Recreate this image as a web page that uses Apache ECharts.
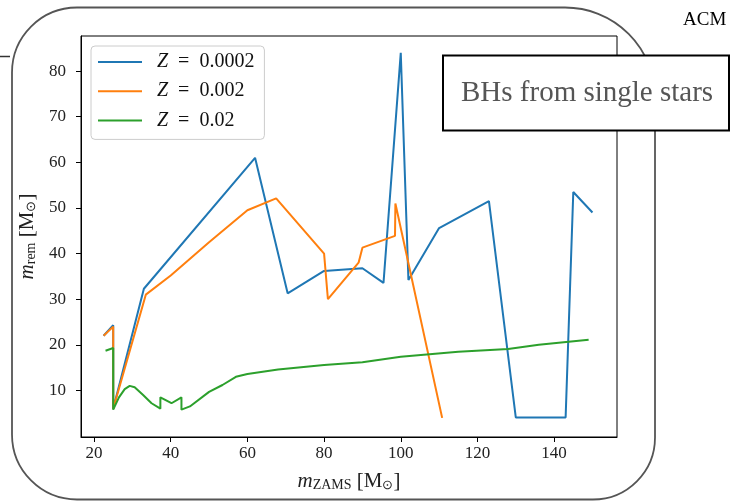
<!DOCTYPE html>
<html>
<head>
<meta charset="utf-8">
<script src="https://cdn.jsdelivr.net/npm/echarts@6/dist/echarts.min.js"></script>
<style>
html,body{margin:0;padding:0;background:#fff;}
#chart{width:736px;height:503px;}
</style>
</head>
<body>
<div id="chart"></div>
<script>
// ---- data ----
var seriesNames = ['Z = 0.0002', 'Z = 0.002', 'Z = 0.02'];
var blueX = [22.5, 25, 25, 33, 62, 70.5, 80, 90, 95.5, 100, 102, 110, 123, 130, 143, 145, 150];
var blueY = [22, 24.3, 6, 32.3, 61, 31.3, 36.2, 36.8, 33.6, 84, 34.2, 45.6, 51.5, 4.1, 4.1, 53.5, 49];
var orangeX = [22.5, 25, 25, 33.5, 40, 50, 60, 67.5, 80, 81, 89, 90, 98.5, 98.6, 110.8];
var orangeY = [22, 24, 6, 31, 35.2, 42.5, 49.5, 52.1, 40, 30, 38, 41.3, 43.9, 51, 4];
var greenX = [23, 25, 25, 26.5, 28, 29.3, 30.6, 32.8, 35, 37.3, 37.3, 40.2, 42.8, 42.8, 45, 50, 53.5, 57, 60, 68, 80, 90, 100, 115, 128, 136, 149];
var greenY = [18.7, 19.3, 5.8, 8.5, 10.3, 11, 10.7, 9, 7.2, 6, 8.5, 7.2, 8.5, 5.8, 6.5, 9.7, 11.2, 13, 13.6, 14.6, 15.6, 16.2, 17.4, 18.5, 19.1, 20, 21.1];
var xTicks = [20, 40, 60, 80, 100, 120, 140];
var yTicks = [10, 20, 30, 40, 50, 60, 70, 80];

function pairs(xs, ys) { return xs.map(function (x, i) { return [x, ys[i]]; }); }

var serif = 'Liberation Serif';
var chart = echarts.init(document.getElementById('chart'), null, {renderer: 'canvas'});

var labelRich = {
  m: {fontFamily: serif, fontStyle: 'italic', fontSize: 21, color: '#222'},
  s: {fontFamily: serif, fontSize: 14, color: '#222', verticalAlign: 'bottom', lineHeight: 16, padding: [7, 0, 0, 0]},
  t: {fontFamily: serif, fontSize: 13, color: '#222', verticalAlign: 'bottom', lineHeight: 16, padding: [7, 0, 0, 0]}
};

var option = {
  backgroundColor: '#fff',
  animation: false,
  grid: {left: 81, right: 119, top: 36, bottom: 66, show: true, borderColor: '#000', borderWidth: 1, backgroundColor: 'transparent'},
  legend: {
    orient: 'vertical', left: 91, top: 46,
    padding: [6, 10, 9, 7],
    backgroundColor: 'rgba(255,255,255,0.85)',
    borderColor: '#ccc', borderWidth: 1, borderRadius: 4,
    icon: 'rect',
    itemWidth: 44, itemHeight: 2, itemGap: 9.2,
    data: seriesNames,
    formatter: function (name) { return '{i|Z}\u2002=\u2002' + name.split('= ')[1]; },
    textStyle: {
      fontFamily: serif, fontSize: 20, color: '#111', lineHeight: 20, padding: [0, 0, 0, 10],
      rich: {i: {fontFamily: serif, fontStyle: 'italic', fontSize: 20, color: '#111'}}
    }
  },
  xAxis: {
    type: 'value', min: 16.6, max: 156.4,
    name: '{m|m}{s|ZAMS} [M{t|⊙}]',
    nameLocation: 'middle', nameGap: 34,
    nameTextStyle: {fontFamily: serif, fontSize: 21, color: '#222', rich: labelRich},
    splitLine: {show: false},
    axisLine: {show: true, onZero: false, lineStyle: {color: '#000', width: 1}},
    axisTick: {show: true, inside: false, length: 5, customValues: xTicks, lineStyle: {color: '#000'}},
    axisLabel: {customValues: xTicks, fontFamily: serif, fontSize: 17, color: '#222', margin: 8}
  },
  yAxis: {
    type: 'value', min: -0.2, max: 87.7,
    name: '{m|m}{s|rem} [M{t|⊙}]',
    nameLocation: 'middle', nameGap: 38, nameRotate: 90,
    nameTextStyle: {fontFamily: serif, fontSize: 21, color: '#222', rich: labelRich},
    splitLine: {show: false},
    axisLine: {show: true, onZero: false, lineStyle: {color: '#000', width: 1}},
    axisTick: {show: true, inside: false, length: 5, customValues: yTicks, lineStyle: {color: '#000'}},
    axisLabel: {customValues: yTicks, fontFamily: serif, fontSize: 17, color: '#222', margin: 15}
  },
  series: [
    {name: seriesNames[0], type: 'line', data: pairs(blueX, blueY), symbol: 'none', color: '#1f77b4', lineStyle: {width: 2, color: '#1f77b4'}},
    {name: seriesNames[1], type: 'line', data: pairs(orangeX, orangeY), symbol: 'none', color: '#ff7f0e', lineStyle: {width: 2, color: '#ff7f0e'}},
    {name: seriesNames[2], type: 'line', data: pairs(greenX, greenY), symbol: 'none', color: '#2ca02c', lineStyle: {width: 2, color: '#2ca02c'}}
  ],
  graphic: [
    {type: 'rect', z: -10, shape: {x: 12, y: 7.5, width: 643, height: 492, r: [65, 90, 62, 65]}, style: {fill: 'none', stroke: '#555', lineWidth: 1.8}},
    {type: 'line', z: -10, shape: {x1: 0, y1: 56.5, x2: 10, y2: 56.5}, style: {stroke: '#333', lineWidth: 1.5}},
    {type: 'text', z: 100, left: 683, top: 11, style: {text: 'ACM', fontFamily: serif, fontSize: 19, fill: '#000'}},
    {type: 'group', z: 100, children: [
      {type: 'rect', z: 100, shape: {x: 443, y: 55.5, width: 286, height: 75}, style: {fill: '#fff', stroke: '#000', lineWidth: 2}},
      {type: 'text', z: 101, x: 461, y: 93, style: {text: 'BHs from single stars', fontFamily: serif, fontSize: 29, fill: '#555', textVerticalAlign: 'middle', verticalAlign: 'middle'}}
    ]}
  ]
};
chart.setOption(option);
</script>
</body>
</html>
